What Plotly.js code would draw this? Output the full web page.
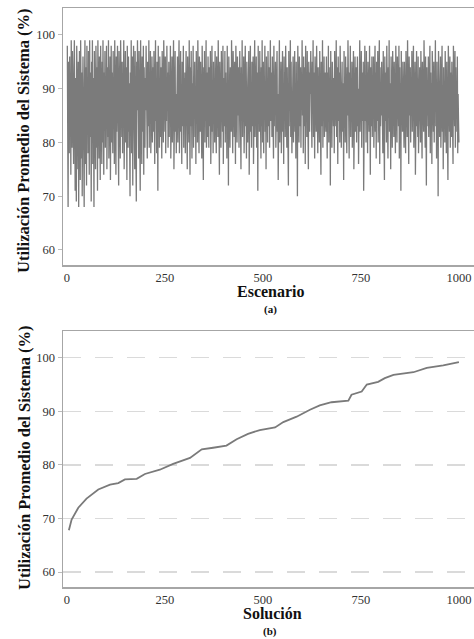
<!DOCTYPE html>
<html>
<head>
<meta charset="utf-8">
<script src="https://cdn.plot.ly/plotly-3.0.1.min.js"></script>
<style>html,body{margin:0;padding:0;background:#fff;}#chart{width:474px;height:639px;}</style>
</head>
<body>
<div id="chart"></div>
<script>
// (a) Utilización promedio del sistema por escenario (valores estimados de la imagen)
var utilizacion = [
98,82,68,95,93,78,96,88,91,74,99,85,79,97,90,83,76,94,99,87,
71,92,86,69,98,80,89,75,95,68,84,97,90,73,99,82,77,93,70,88,
96,79,85,68,91,99,76,87,94,72,98,83,90,78,97,86,74,99,81,93,
88,69,95,80,99,76,92,85,68,97,83,90,75,98,87,79,94,71,99,84,
91,77,96,86,73,98,82,89,76,95,80,99,88,74,93,85,97,79,90,83,
98,75,87,94,81,99,77,91,84,96,73,89,98,80,93,86,78,97,83,92,
76,99,85,90,74,96,82,88,98,79,93,72,97,86,91,77,99,84,89,81,
95,78,92,87,99,75,90,83,97,80,94,86,73,98,88,79,96,82,91,76,
70,93,85,99,78,89,96,72,87,98,81,92,75,97,84,90,69,95,86,99,
80,91,77,97,85,93,71,99,83,88,76,96,90,82,98,74,94,87,79,92,
86,98,81,90,77,95,88,83,99,79,93,85,97,78,91,84,96,80,89,94,
82,97,87,76,93,99,84,90,78,95,86,71,98,83,92,79,96,88,81,94,
89,77,97,85,91,80,99,87,94,82,96,78,90,84,98,86,93,79,88,95,
81,92,86,98,77,90,84,96,80,93,87,99,75,91,85,97,82,89,78,94,
87,96,80,91,84,99,78,93,86,97,82,89,76,95,88,83,98,79,92,85,
93,78,88,97,82,90,75,96,85,92,80,99,87,74,94,83,97,89,77,91,
84,98,79,92,87,95,81,89,76,97,86,93,80,99,83,90,78,96,88,82,
95,85,91,77,98,83,89,73,94,86,97,80,92,84,99,79,88,93,81,96,
87,79,94,83,90,97,76,92,85,98,82,89,78,95,86,91,80,97,84,93,
78,96,86,91,81,99,85,88,74,95,83,93,79,97,87,90,82,98,76,92,
89,83,97,80,93,86,91,77,98,84,90,72,96,85,92,79,94,88,82,99,
86,93,78,97,84,90,81,95,87,76,98,83,92,80,96,89,85,94,79,91,
97,82,88,75,94,86,99,81,90,84,96,78,92,87,98,83,89,77,95,85,
80,93,87,97,74,91,85,98,82,90,79,95,88,83,96,76,92,86,99,81,
90,85,96,79,93,87,71,98,84,91,82,97,86,89,77,94,83,99,80,88,
95,78,91,86,98,82,89,75,96,85,92,80,97,87,83,94,79,90,99,84,
88,93,81,96,85,90,77,98,83,91,86,95,79,92,84,97,82,89,73,94,
86,99,80,92,87,95,78,90,84,97,82,88,76,96,85,93,81,98,87,91,
79,94,86,90,72,97,83,92,88,99,81,95,85,78,93,87,96,80,91,84,
97,82,89,77,95,86,91,70,98,84,90,80,96,87,83,94,79,92,88,99,
85,91,78,96,83,89,94,76,98,86,92,81,97,84,90,75,95,87,82,93,
89,97,83,91,79,95,86,99,81,93,87,77,96,84,90,82,98,85,92,78,
94,86,90,80,97,84,92,74,95,88,83,99,79,91,86,96,81,89,93,85,
82,96,88,77,93,85,98,80,90,87,94,72,97,84,91,79,95,86,89,83,
92,78,97,85,90,83,99,81,94,87,76,96,89,84,93,80,98,86,91,79,
88,95,82,91,86,73,97,84,92,80,96,87,90,78,94,85,99,83,89,77,
93,86,98,81,90,84,95,79,92,87,97,75,91,85,96,82,89,94,80,88,
96,83,90,76,94,87,99,82,91,85,97,79,93,88,84,95,71,92,86,98,
84,91,80,97,87,93,78,95,85,90,82,98,86,74,94,89,83,96,81,92,
87,96,79,90,85,98,82,93,77,95,88,84,97,80,91,86,99,76,94,83,
90,85,95,81,92,78,97,86,89,73,96,84,93,87,80,98,83,91,77,94,
86,99,82,91,88,75,96,84,93,79,97,87,90,81,95,85,92,78,98,83,
92,80,96,86,90,83,98,77,94,85,91,71,97,84,89,82,95,87,93,79,
95,84,89,78,97,86,92,81,99,83,90,76,96,88,85,94,80,91,87,97,
82,93,86,98,79,90,85,95,74,92,87,97,83,89,81,96,78,91,86,94,
88,80,97,84,92,77,95,86,90,82,99,85,93,79,96,87,72,94,83,91,
85,96,81,90,87,98,78,93,84,91,76,97,86,89,82,95,80,92,88,99,
83,91,77,95,86,90,70,97,84,93,81,88,96,79,92,85,98,82,89,75,
94,86,91,80,97,84,89,78,95,87,92,73,98,85,90,82,96,79,93,88,
81,95,87,92,76,98,85,90,83,97,79,94,86,91,82,96,78,89,84,80
];
var escenario = utilizacion.map(function(_, i){ return i + 1; });

// (b) Soluciones ordenadas (lectura de la curva)
var solucionIdx  = [5,12,29,50,80,110,131,148,178,199,237,271,314,344,373,407,433,462,492,518,531,552,586,620,645,675,718,726,752,765,794,811,833,884,918,960,1000];
var solucionUtil = [67.8,69.8,72.0,73.7,75.4,76.3,76.6,77.3,77.4,78.3,79.1,80.2,81.3,82.9,83.2,83.6,84.8,85.8,86.5,86.9,87.0,88.0,89.0,90.3,91.1,91.7,92.0,93.1,93.7,95.0,95.5,96.2,96.8,97.3,98.1,98.6,99.2];

var xTicks = [0,250,500,750,1000];
var yTicks = [60,70,80,90,100];

var H = 639;
function py(px){ return 1 - px / H; }

var serif = "Liberation Serif, Times New Roman, serif";
var tickFont = {family: serif, size: 12.5, color: '#333'};

var traces = [
  {x: escenario, y: utilizacion, type: 'scatter', mode: 'lines',
   line: {color: '#7b7b7b', width: 1.3}, xaxis: 'x', yaxis: 'y', hoverinfo: 'skip'},
  {x: solucionIdx, y: solucionUtil, type: 'scatter', mode: 'lines',
   line: {color: '#7a7a7a', width: 1.8}, xaxis: 'x2', yaxis: 'y2', hoverinfo: 'skip'}
];

function xax(anchor){
  return {anchor: anchor, range: [-10, 1038.5], tickvals: xTicks, ticktext: xTicks.map(String),
    tickfont: tickFont, showgrid: false, zeroline: false, showline: true, linecolor: '#a6a6a6',
    linewidth: 1.5, mirror: true, ticks: '', automargin: false};
}
function yax(anchor, domain, grid){
  return {anchor: anchor, domain: domain, range: [57.2, 105], tickvals: yTicks, ticktext: yTicks.map(String),
    tickfont: tickFont, showgrid: grid, gridcolor: '#dadada', gridwidth: 1.3, griddash: '18px,14px',
    zeroline: false, showline: true, linecolor: '#a6a6a6', linewidth: 1.5, mirror: false,
    ticks: 'outside', ticklen: 4, tickcolor: '#bbb', automargin: false};
}

var titleFont = {family: serif, size: 16.5, color: '#111'};
var ann = [
  {text: '<b>Utilización Promedio del Sistema (%)</b>', textangle: -90, xref: 'paper', yref: 'paper',
   x: (24-63)/411, y: py(141), xanchor: 'center', yanchor: 'middle', showarrow: false, font: titleFont},
  {text: '<b>Utilización Promedio del Sistema (%)</b>', textangle: -90, xref: 'paper', yref: 'paper',
   x: (24-63)/411, y: py(458), xanchor: 'center', yanchor: 'middle', showarrow: false, font: titleFont},
  {text: '<b>Escenario</b>', xref: 'paper', yref: 'paper', x: (271-63)/411, y: py(292),
   xanchor: 'center', yanchor: 'middle', showarrow: false, font: {family: serif, size: 16, color: '#111'}},
  {text: '<b>(a)</b>', xref: 'paper', yref: 'paper', x: (270-63)/411, y: py(309),
   xanchor: 'center', yanchor: 'middle', showarrow: false, font: {family: serif, size: 11, color: '#111'}},
  {text: '<b>Solución</b>', xref: 'paper', yref: 'paper', x: (272-63)/411, y: py(613),
   xanchor: 'center', yanchor: 'middle', showarrow: false, font: {family: serif, size: 16, color: '#111'}},
  {text: '<b>(b)</b>', xref: 'paper', yref: 'paper', x: (270-63)/411, y: py(631),
   xanchor: 'center', yanchor: 'middle', showarrow: false, font: {family: serif, size: 11, color: '#111'}}
];

var layout = {
  width: 474, height: 639,
  margin: {l: 63, r: 0, t: 0, b: 0},
  paper_bgcolor: '#fff', plot_bgcolor: '#fff',
  showlegend: false,
  xaxis: xax('y'),
  yaxis: yax('x', [py(265), py(8)], false),
  xaxis2: xax('y2'),
  yaxis2: yax('x2', [py(587), py(331)], true),
  annotations: ann
};

Plotly.newPlot('chart', traces, layout, {displayModeBar: false, staticPlot: true});
</script>
</body>
</html>
